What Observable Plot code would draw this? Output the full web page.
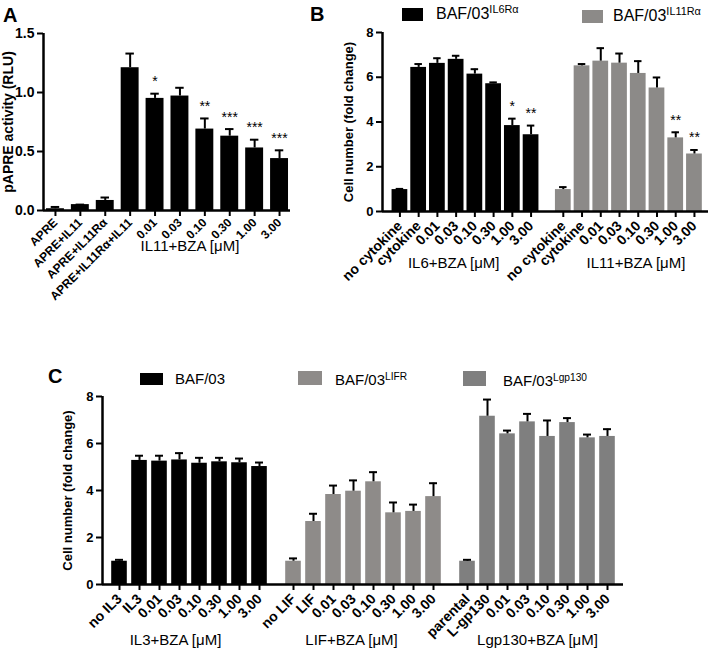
<!DOCTYPE html>
<html>
<head>
<meta charset="utf-8">
<script src="https://cdn.jsdelivr.net/npm/d3@7"></script>
<script src="https://cdn.jsdelivr.net/npm/@observablehq/plot@0.6"></script>
<style>
  html, body { margin: 0; padding: 0; background: #fff; }
  #fig { position: relative; width: 709px; height: 650px; overflow: hidden; background: #fff;
         font-family: "Liberation Sans", Arial, Helvetica, sans-serif; color: #000; }
  .panel { position: absolute; }
  .panel svg { overflow: visible; display: block; }
  .txt { position: absolute; white-space: nowrap; line-height: 1; }
  .txt sup { font-size: 0.68em; line-height: 0; vertical-align: baseline; position: relative; top: -0.55em; }
  .sw { position: absolute; }
</style>
</head>
<body>
<div id="fig"></div>
<script>
// ---------------- DATA ----------------
// Panel A
const aCategories = ["APRE", "APRE+IL11", "APRE+IL11Rα", "APRE+IL11Rα+IL11", "0.01", "0.03", "0.10", "0.30", "1.00", "3.00"];
const aValues = [0.015, 0.05, 0.085, 1.21, 0.95, 0.97, 0.69, 0.63, 0.53, 0.44];
const aErrors = [0.03, 0.05, 0.11, 1.33, 0.99, 1.04, 0.78, 0.69, 0.60, 0.51];
const aStars = ["", "", "", "", "*", "", "**", "***", "***", "***"];
const aTicks = [0, 0.5, 1.0, 1.5];
const aYLabel = "pAPRE activity (RLU)";
const aTitles = ["IL11+BZA [μM]"];

// Panel B
const bCategories = ["no cytokine", "cytokine", "0.01", "0.03", "0.10", "0.30", "1.00", "3.00"];
const bIL6Values = [0.98, 6.44, 6.62, 6.80, 6.14, 5.71, 3.84, 3.43];
const bIL6Errors = [1.01, 6.59, 6.85, 6.96, 6.36, 5.77, 4.15, 3.84];
const bIL6Stars = ["", "", "", "", "", "", "*", "**"];
const bIL11Values = [0.98, 6.51, 6.72, 6.63, 6.17, 5.52, 3.29, 2.57];
const bIL11Errors = [1.09, 6.59, 7.30, 7.06, 6.72, 5.99, 3.54, 2.75];
const bIL11Stars = ["", "", "", "", "", "", "**", "**"];
const bTitles = ["IL6+BZA [μM]", "IL11+BZA [μM]"];
const bLegend = [["BAF/03", "IL6Rα"], ["BAF/03", "IL11Rα"]];

// Panel C
const cIL3Categories = ["no IL3", "IL3", "0.01", "0.03", "0.10", "0.30", "1.00", "3.00"];
const cIL3Values = [0.99, 5.28, 5.25, 5.30, 5.16, 5.22, 5.18, 5.02];
const cIL3Errors = [1.05, 5.48, 5.48, 5.59, 5.39, 5.39, 5.36, 5.19];
const cLIFCategories = ["no LIF", "LIF", "0.01", "0.03", "0.10", "0.30", "1.00", "3.00"];
const cLIFValues = [0.99, 2.68, 3.83, 3.97, 4.37, 3.05, 3.11, 3.74];
const cLIFErrors = [1.11, 3.01, 4.21, 4.43, 4.78, 3.49, 3.40, 4.31];
const cGp130Categories = ["parental", "L-gp130", "0.01", "0.03", "0.10", "0.30", "1.00", "3.00"];
const cGp130Values = [0.99, 7.16, 6.41, 6.92, 6.30, 6.89, 6.24, 6.30];
const cGp130Errors = [1.05, 7.87, 6.55, 7.26, 6.98, 7.08, 6.38, 6.61];
const cTitles = ["IL3+BZA [μM]", "LIF+BZA [μM]", "Lgp130+BZA [μM]"];
const cLegend = [["BAF/03", ""], ["BAF/03", "LIFR"], ["BAF/03", "Lgp130"]];

const cellTicks = [0, 2, 4, 6, 8];
const cellYLabel = "Cell number (fold change)";

// ---------------- STYLE ----------------
const FONT = "'Liberation Sans', Arial, Helvetica, sans-serif";
const BLACK = "#000000";
const GRAY_B = "#8c8a88";
const GRAY_LIF = "#8e8b89";
const GRAY_GP = "#7f7f7f";

// ---------------- HELPERS ----------------
function buildRows(groups, gap) {
  const rows = [];
  let start = 0;
  const starts = [];
  for (const g of groups) {
    starts.push(start);
    g.labels.forEach((label, i) => rows.push({
      pos: start + i, label, value: g.values[i], err: g.errors[i],
      star: g.stars ? g.stars[i] : "", fill: g.fill
    }));
    start += g.labels.length - 1 + gap;
  }
  return {rows, starts};
}

function drawPanel(o) {
  const rows = o.rows;
  const labelAt = new Map(rows.map(d => [d.pos, d.label]));
  return Plot.plot({
    width: o.width, height: o.height,
    marginLeft: o.ml, marginRight: o.mr, marginTop: o.mt, marginBottom: o.mb,
    x: {domain: o.xDomain},
    y: {domain: o.yDomain},
    color: {type: "identity"},
    style: {fontFamily: FONT, background: "transparent", overflow: "visible", color: "#000"},
    marks: [
      Plot.rect(rows, {x1: d => d.pos - o.barHalf, x2: d => d.pos + o.barHalf, y1: 0, y2: "value", fill: "fill"}),
      Plot.ruleX(rows, {x: "pos", y1: "value", y2: "err", stroke: "#000", strokeWidth: 2}),
      Plot.ruleY(rows, {y: "err", x1: d => d.pos - o.capHalf, x2: d => d.pos + o.capHalf, stroke: "#000", strokeWidth: 2}),
      Plot.text(rows, {x: "pos", y: "err", text: "star", dy: -12, fontSize: 14, fill: "#000"}),
      Plot.ruleY([0], {stroke: "#000", strokeWidth: 2.5}),
      Plot.ruleX([o.xDomain[0]], {stroke: "#000", strokeWidth: 2.5}),
      Plot.axisY({
        ticks: o.yTicks, tickFormat: o.yFormat, tickSize: 6, tickPadding: 3, strokeWidth: 2,
        fontSize: o.yFont, fontWeight: "bold", fill: "#000",
        label: o.yLabel, labelAnchor: "center", labelOffset: o.labelOffset, labelArrow: "none"
      }),
      Plot.axisX({
        ticks: rows.map(d => d.pos), tickFormat: d => labelAt.get(d), tickRotate: -45,
        tickSize: 6, tickPadding: o.xPad, strokeWidth: 2, fontSize: o.xFont, fontWeight: "bold", fill: "#000",
        label: null
      }),
      Plot.text(o.titles, {x: "pos", text: "text", frameAnchor: "bottom", dy: o.titleDy, fontSize: 15, fontWeight: "normal", fill: "#000"})
    ]
  });
}

const fig = document.getElementById("fig");
function place(svg, left, top, width) {
  const d = document.createElement("div");
  d.className = "panel";
  d.style.left = left + "px"; d.style.top = top + "px"; d.style.width = width + "px";
  d.appendChild(svg);
  fig.appendChild(d);
}
function addText(html, left, baseline, size, weight) {
  const d = document.createElement("div");
  d.className = "txt";
  d.innerHTML = html;
  d.style.fontSize = size + "px";
  d.style.fontWeight = weight || "normal";
  d.style.left = left + "px";
  d.style.top = (baseline - 0.8465 * size) + "px";
  fig.appendChild(d);
}
function addSwatch(color, left, top, w, h) {
  const d = document.createElement("div");
  d.className = "sw";
  Object.assign(d.style, {left: left + "px", top: top + "px", width: w + "px", height: h + "px", background: color});
  fig.appendChild(d);
}
function legendHtml([main, sup]) { return sup ? `${main}<sup>${sup}</sup>` : main; }

// ---------------- PANEL A ----------------
{
  const {rows} = buildRows([{labels: aCategories, values: aValues, errors: aErrors, stars: aStars, fill: BLACK}], 1);
  const svg = drawPanel({
    rows, width: 350, height: 300, ml: 43, mr: 60, mt: 33, mb: 90,
    xDomain: [-0.48, 9.44], yDomain: [0, 1.5], yTicks: aTicks, yFormat: d3.format(".1f"),
    barHalf: 0.36, capHalf: 0.17, yFont: 14, xFont: 12, xPad: 4, yLabel: aYLabel, labelOffset: 40,
    titles: aTitles.map((text, i) => ({text, pos: 5.4})), titleDy: 40
  });
  place(svg, 0, 0, 350);
}

// ---------------- PANEL B ----------------
{
  const {rows, starts} = buildRows([
    {labels: bCategories, values: bIL6Values, errors: bIL6Errors, stars: bIL6Stars, fill: BLACK},
    {labels: bCategories, values: bIL11Values, errors: bIL11Errors, stars: bIL11Stars, fill: GRAY_B}
  ], 1.72);
  const titleShift = [2.87, 3.88];
  const svg = drawPanel({
    rows, width: 359, height: 300, ml: 32, mr: 1, mt: 32, mb: 89,
    xDomain: [-0.93, 16.47], yDomain: [0, 8], yTicks: cellTicks, yFormat: d3.format("d"),
    barHalf: 0.42, capHalf: 0.2, yFont: 13, xFont: 14, xPad: 6, yLabel: cellYLabel, labelOffset: 39,
    titles: bTitles.map((text, i) => ({text, pos: starts[i] + titleShift[i]})), titleDy: 56
  });
  place(svg, 350, 0, 359);
}

// ---------------- PANEL C ----------------
{
  const {rows, starts} = buildRows([
    {labels: cIL3Categories, values: cIL3Values, errors: cIL3Errors, fill: BLACK},
    {labels: cLIFCategories, values: cLIFValues, errors: cLIFErrors, fill: GRAY_LIF},
    {labels: cGp130Categories, values: cGp130Values, errors: cGp130Errors, fill: GRAY_GP}
  ], 1.7);
  const titleShift = [2.8, 2.9, 3.5];
  const svg = drawPanel({
    rows, width: 709, height: 320, ml: 102, mr: 86, mt: 66, mb: 66,
    xDomain: [-0.85, 25.2], yDomain: [0, 8], yTicks: cellTicks, yFormat: d3.format("d"),
    barHalf: 0.39, capHalf: 0.2, yFont: 13, xFont: 14, xPad: 6, yLabel: cellYLabel, labelOffset: 40,
    titles: cTitles.map((text, i) => ({text, pos: starts[i] + titleShift[i]})), titleDy: 60
  });
  place(svg, 0, 330, 709);
}

// ---------------- PANEL LETTERS & LEGENDS ----------------
addText("A", 3, 22, 20, "bold");
addText("B", 310, 21, 20, "bold");
addText("C", 48, 383, 20, "bold");

addSwatch(BLACK, 402, 8, 21, 13);
addText(legendHtml(bLegend[0]), 436, 20, 16);
addSwatch(GRAY_B, 582, 10, 21, 13);
addText(legendHtml(bLegend[1]), 613, 22, 16);

addSwatch(BLACK, 140, 373, 23, 12);
addText(legendHtml(cLegend[0]), 175, 384, 15);
addSwatch(GRAY_LIF, 298, 371, 24, 14);
addText(legendHtml(cLegend[1]), 335, 385, 15);
addSwatch(GRAY_GP, 463, 371, 23, 15);
addText(legendHtml(cLegend[2]), 503, 386, 15);
</script>
</body>
</html>
